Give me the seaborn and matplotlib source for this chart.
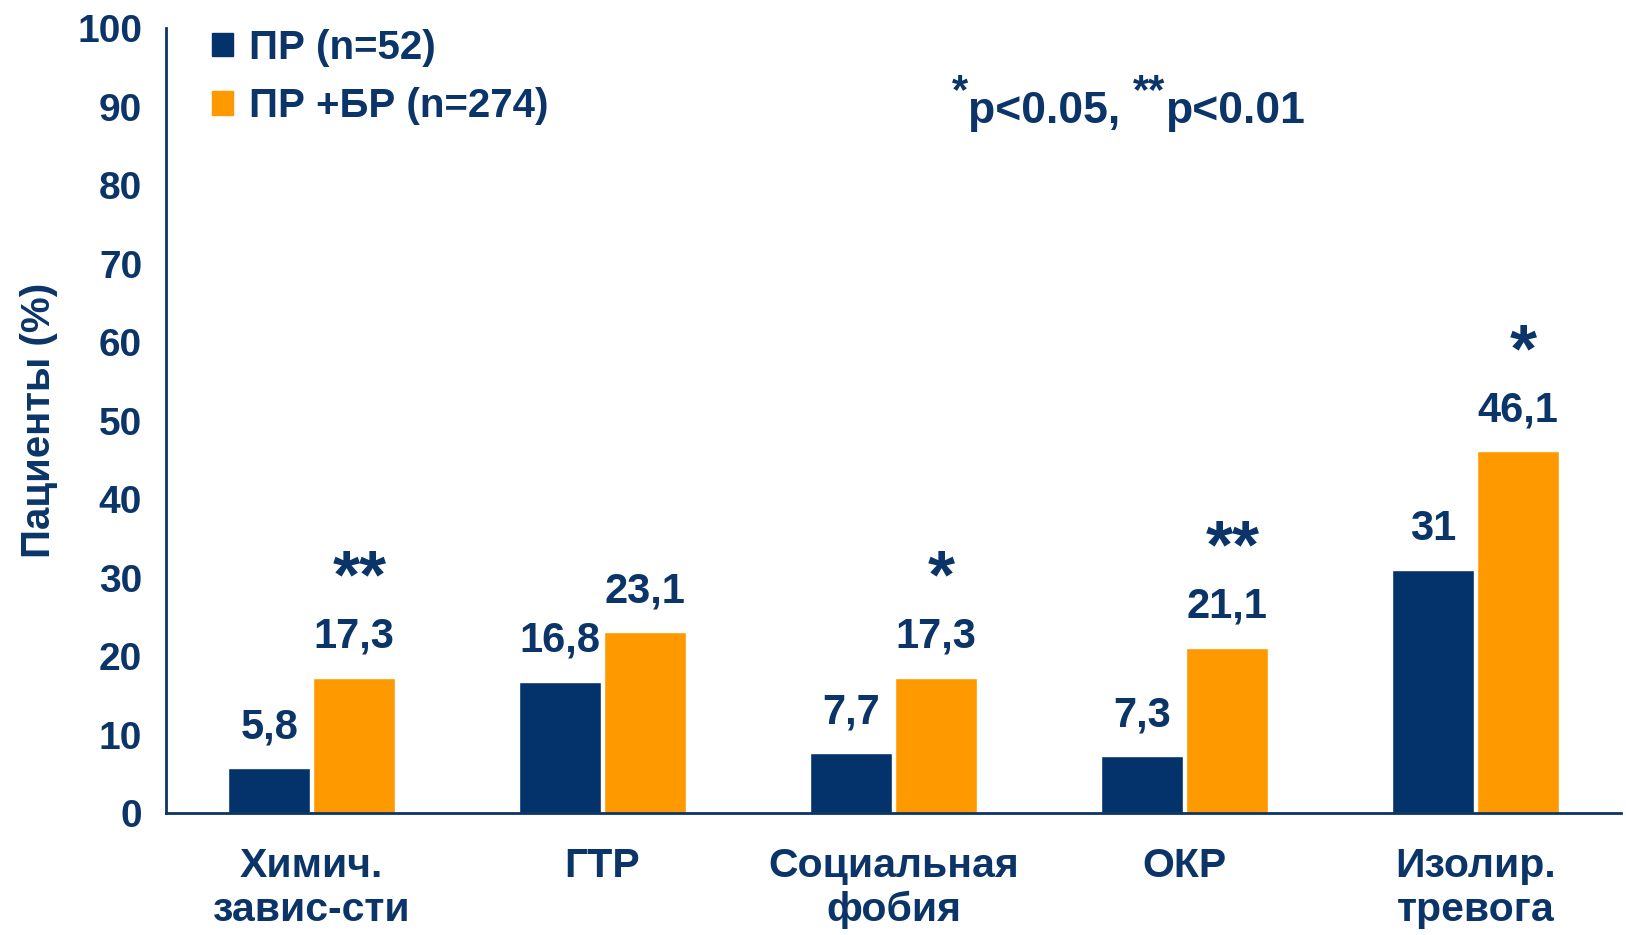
import matplotlib
matplotlib.use("Agg")
import matplotlib.pyplot as plt
from matplotlib.patches import Patch
import numpy as np
import pandas as pd
import seaborn as sns

# данные с графика
categories = ["Химич.\nзавис-сти", "ГТР", "Социальная\nфобия", "ОКР", "Изолир.\nтревога"]
series_names = ["ПР (n=52)", "ПР +БР (n=274)"]
pr_values = [5.8, 16.8, 7.7, 7.3, 31]
pr_br_values = [17.3, 23.1, 17.3, 21.1, 46.1]
pr_labels = ["5,8", "16,8", "7,7", "7,3", "31"]
pr_br_labels = ["17,3", "23,1", "17,3", "21,1", "46,1"]
stars = ["**", "", "*", "**", "*"]
y_ticks = [0, 10, 20, 30, 40, 50, 60, 70, 80, 90, 100]

navy = "#04326a"
orange = "#ff9900"
text_c = "#0b3468"

sns.set_style("white")
plt.rcParams["font.family"] = ["Liberation Sans", "DejaVu Sans"]
plt.rcParams["font.weight"] = "bold"

df = pd.DataFrame({
    "cat": categories * 2,
    "group": [series_names[0]] * 5 + [series_names[1]] * 5,
    "val": pr_values + pr_br_values,
})

fig = plt.figure(figsize=(16.26, 9.35), dpi=100)
ax = fig.add_axes([0.102, 0.13, 0.895, 0.84])

sns.barplot(data=df, x="cat", y="val", hue="group", order=categories,
            hue_order=series_names, palette=[navy, orange], width=0.58,
            gap=0.03, saturation=1, ax=ax, legend=False, errorbar=None)

ax.set_xlim(-0.5, 4.5)
ax.set_ylim(0, 100)
ax.set_yticks(y_ticks)
ax.tick_params(axis="y", labelsize=28, colors=text_c, length=7, width=2, pad=10)
ax.set_xticks(range(len(categories)))
ax.set_xticklabels(categories, fontsize=29.5, color=text_c, linespacing=1.2)
ax.tick_params(axis="x", length=0, pad=24)
ax.set_xticks(np.arange(-0.5, 5, 1), minor=True)
ax.tick_params(axis="x", which="minor", length=11, width=2, color=text_c)
for lab in ax.get_yticklabels():
    lab.set_fontweight("bold")
for lab in ax.get_xticklabels():
    lab.set_fontweight("bold")

sns.despine(ax=ax, top=True, right=True)
for s in ["left", "bottom"]:
    ax.spines[s].set_color(text_c)
    ax.spines[s].set_linewidth(2)

ax.set_xlabel("")
ax.set_ylabel("Пациенты (%)", fontsize=29, color=text_c, fontweight="bold", labelpad=14)

# подписи значений над столбцами
off = 0.145
for i in range(len(categories)):
    ax.text(i - off, pr_values[i] + 5.2, pr_labels[i], ha="center", va="center",
            fontsize=30, color=text_c, fontweight="bold")
    ax.text(i + off, pr_br_values[i] + 5.2, pr_br_labels[i], ha="center", va="center",
            fontsize=30, color=text_c, fontweight="bold")
    if stars[i]:
        ax.text(i + off + 0.02, pr_br_values[i] + 12.5, stars[i], ha="center", va="center",
                fontsize=50, color=text_c, fontweight="bold")

# легенда
handles = [Patch(color=navy), Patch(color=orange)]
ax.legend(handles, series_names, loc="upper left", bbox_to_anchor=(0.007, 1.045),
          frameon=False, handlelength=0.52, handleheight=0.52,
          handletextpad=0.4, labelspacing=0.5, labelcolor=text_c,
          prop={"weight": "bold", "size": 29})

# p-значения
t1 = ax.text(0.54, 0.905, "*", transform=ax.transAxes, fontsize=30,
             color=text_c, fontweight="bold", va="baseline", ha="left")
t2 = ax.annotate("p<0.05, ", xy=(1, 0), xycoords=t1, xytext=(0, -15),
                 textcoords="offset points", fontsize=32, color=text_c,
                 fontweight="bold", va="bottom", ha="left")
t3 = ax.annotate("**", xy=(1, 0), xycoords=t2, xytext=(0, 15),
                 textcoords="offset points", fontsize=30, color=text_c,
                 fontweight="bold", va="bottom", ha="left")
ax.annotate("p<0.01", xy=(1, 0), xycoords=t3, xytext=(0, -15),
            textcoords="offset points", fontsize=32, color=text_c,
            fontweight="bold", va="bottom", ha="left")

fig.savefig("out.png", dpi=100)
